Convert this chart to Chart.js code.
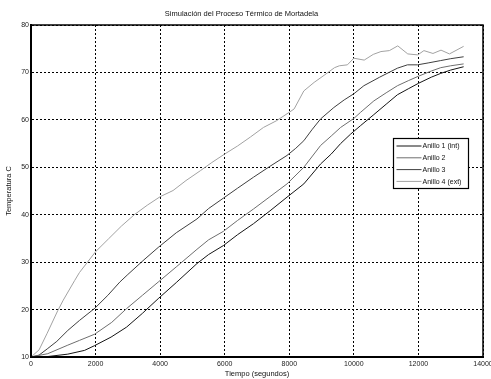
<!DOCTYPE html>
<html>
<head>
<meta charset="utf-8">
<script src="https://cdn.jsdelivr.net/npm/chart.js@4"></script>
<style>
    html, body { margin: 0; padding: 0; background: #fff; }
    #wrap { width: 491px; height: 379px; }
</style>
</head>
<body>
<div id="wrap"><canvas id="chart" width="491" height="379"></canvas></div>
<script>
// Data (tiempo in s, temperatura in C)
const tiempo1 = [0, 520, 1140, 1660, 1970, 2480, 2960, 3450, 3940, 4500, 5140, 5500, 5960, 6400, 6890, 7400, 7930, 8450, 8970, 9300, 9590, 9900, 10210, 10600, 11000, 11350, 11700, 12000, 12400, 12690, 13000, 13400];
const anillo1 = [10, 10.1, 10.6, 11.4, 12.4, 14.2, 16.3, 19.2, 22.3, 25.7, 29.7, 31.6, 33.5, 35.8, 38.1, 40.8, 43.7, 46.5, 50.7, 52.8, 55.0, 57.0, 58.8, 61.0, 63.3, 65.3, 66.6, 67.7, 69.0, 69.8, 70.5, 71.2];

const tiempo2 = [0, 520, 1140, 1500, 1970, 2500, 2960, 3450, 3940, 4500, 5140, 5500, 5960, 6400, 6890, 7400, 7930, 8450, 8970, 9300, 9590, 10000, 10210, 10620, 11000, 11350, 11700, 12000, 12400, 12690, 13000, 13400];
const anillo2 = [10, 10.7, 12.5, 13.5, 14.8, 17.3, 20.2, 23.0, 25.8, 29.0, 32.7, 34.7, 36.5, 38.8, 41.2, 43.8, 46.5, 50.0, 54.6, 56.6, 58.4, 60.3, 61.6, 64.0, 65.7, 67.2, 68.3, 69.2, 70.3, 71.0, 71.4, 71.8];

const tiempo3 = [0, 250, 520, 800, 1140, 1500, 1980, 2380, 2750, 3000, 3500, 3940, 4500, 5140, 5500, 5960, 6400, 6890, 7400, 7930, 8200, 8450, 8700, 8970, 9380, 9700, 10000, 10310, 10800, 11350, 11660, 11970, 12300, 12690, 13000, 13400];
const anillo3 = [10, 10.4, 11.8, 13.3, 15.6, 17.7, 20.3, 23.0, 25.8, 27.4, 30.5, 33.1, 36.2, 39.1, 41.3, 43.5, 45.6, 47.9, 50.2, 52.5, 54.0, 55.6, 57.9, 60.2, 62.6, 64.2, 65.5, 67.2, 69.0, 70.9, 71.6, 71.6, 72.0, 72.5, 72.9, 73.3];

const tiempo4 = [0, 250, 500, 830, 1000, 1350, 1500, 2000, 2400, 2800, 3200, 3600, 4000, 4400, 4800, 5250, 5600, 6000, 6400, 6800, 7200, 7600, 8000, 8150, 8450, 8770, 9100, 9400, 9550, 9800, 10000, 10320, 10600, 10840, 11100, 11360, 11670, 11980, 12170, 12450, 12700, 12960, 13400];
const anillo4 = [10, 11.5, 15.0, 19.8, 22.0, 26.1, 27.8, 32.2, 34.9, 37.6, 40.0, 42.0, 43.8, 45.1, 47.2, 49.3, 51.0, 52.8, 54.5, 56.4, 58.4, 59.8, 61.6, 62.3, 66.1, 67.9, 69.5, 71.0, 71.4, 71.6, 73.0, 72.6, 73.8, 74.4, 74.6, 75.6, 73.9, 73.7, 74.6, 74.0, 74.7, 73.9, 75.5];

const etiquetas = ['Anillo 1 (int)', 'Anillo 2', 'Anillo 3', 'Anillo 4 (ext)'];
const colores = ['#151515', '#6e6e6e', '#3f3f3f', '#a2a2a2'];

const series = [[tiempo1, anillo1], [tiempo2, anillo2], [tiempo3, anillo3], [tiempo4, anillo4]];

const FONT = 'Liberation Sans, Arial, sans-serif';

function toPoints(xs, ys) {
    return xs.map((x, i) => ({ x: x, y: ys[i] }));
}

// Box around plot + legend inside the plot area
const boxPlugin = {
    id: 'boxPlugin',
    afterDraw(chart) {
        const ctx = chart.ctx;
        const a = chart.chartArea;
        ctx.save();
        ctx.strokeStyle = '#000';
        ctx.lineWidth = 1.5;
        ctx.strokeRect(a.left, a.top, a.right - a.left, a.bottom - a.top);

        // legend
        const lx = 393.5, ly = 138.5, lw = 75, lh = 50;
        ctx.fillStyle = '#fff';
        ctx.fillRect(lx, ly, lw, lh);
        ctx.lineWidth = 1.2;
        ctx.strokeStyle = '#000';
        ctx.strokeRect(lx, ly, lw, lh);
        ctx.font = '7px ' + FONT;
        ctx.textBaseline = 'middle';
        chart.data.datasets.forEach((ds, i) => {
            const y = ly + 7.5 + i * 11.8;
            ctx.strokeStyle = ds.borderColor;
            ctx.lineWidth = 1;
            ctx.beginPath();
            ctx.moveTo(lx + 3, y);
            ctx.lineTo(lx + 28, y);
            ctx.stroke();
            ctx.fillStyle = '#111';
            ctx.fillText(ds.label, lx + 29, y + 0.5);
        });
        ctx.restore();
    }
};

const ctx = document.getElementById('chart').getContext('2d');
new Chart(ctx, {
    type: 'line',
    data: {
        datasets: series.map((s, i) => ({
            label: etiquetas[i],
            data: toPoints(s[0], s[1]),
            borderColor: colores[i],
            borderWidth: 1,
            pointRadius: 0,
            tension: 0,
            fill: false
        }))
    },
    options: {
        responsive: false,
        animation: false,
        devicePixelRatio: 1,
        layout: { padding: { left: 0, right: 8, top: 0, bottom: 0 } },
        plugins: {
            legend: { display: false },
            tooltip: { enabled: false },
            title: {
                display: true,
                text: 'Simulación del Proceso Térmico de Mortadela',
                color: '#111',
                font: { family: FONT, size: 7.5, weight: 'normal' },
                padding: { top: 9, bottom: 7 }
            }
        },
        scales: {
            x: {
                type: 'linear',
                min: 0,
                max: 14000,
                ticks: {
                    stepSize: 2000,
                    color: '#222',
                    font: { family: FONT, size: 7 },
                    padding: 3,
                    maxRotation: 0,
                    autoSkip: false,
                    callback: v => String(v)
                },
                grid: { color: '#000', lineWidth: 1, drawTicks: false },
                border: { color: '#000', width: 2, dash: [2, 2] },
                title: {
                    display: true,
                    text: 'Tiempo (segundos)',
                    color: '#111',
                    font: { family: FONT, size: 7.5 },
                    padding: { top: 0, bottom: 1 }
                },
                afterFit(scale) {
                    scale.height = 22;
                    scale.paddingLeft = 0;
                    scale.paddingRight = 0;
                }
            },
            y: {
                min: 10,
                max: 80,
                ticks: {
                    stepSize: 10,
                    color: '#222',
                    font: { family: FONT, size: 7 },
                    padding: 2
                },
                grid: { color: '#000', lineWidth: 1, drawTicks: false },
                border: { color: '#000', width: 2, dash: [2, 2] },
                title: {
                    display: true,
                    text: 'Temperatura C',
                    color: '#111',
                    font: { family: FONT, size: 7.5 },
                    padding: { top: 4, bottom: 0 }
                },
                afterFit(scale) {
                    scale.width = 31;
                    scale.paddingTop = 0;
                    scale.paddingBottom = 0;
                }
            }
        }
    },
    plugins: [boxPlugin]
});
</script>
</body>
</html>
